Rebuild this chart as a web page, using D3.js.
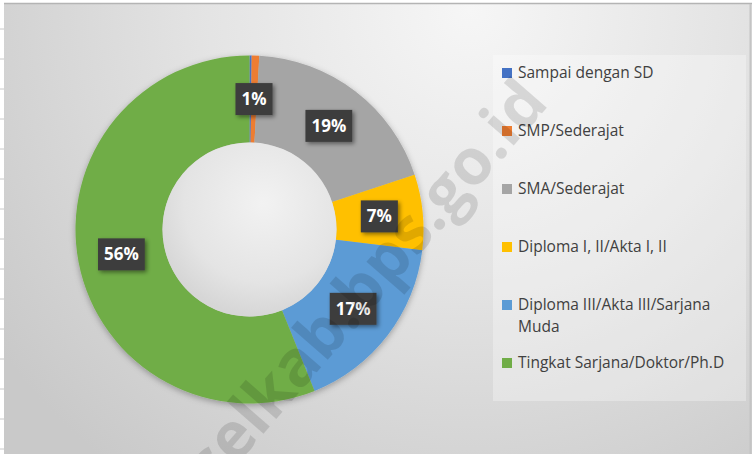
<!DOCTYPE html>
<html lang="en">
<head>
  <meta charset="UTF-8">
  <title>Pendidikan - Donut</title>
  <script src="https://d3js.org/d3.v7.min.js"></script>
  <style>
    body { margin: 0; background: #fff; }
    svg { display: block; font-family: "Open Sans", "Noto Sans", Arial, sans-serif; }
  </style>
</head>
<body>
  <svg id="chart" width="752" height="454"></svg>
  <script>
    // data (percent)
    const categories = [
      "Sampai dengan SD",
      "SMP/Sederajat",
      "SMA/Sederajat",
      "Diploma I, II/Akta I, II",
      "Diploma III/Akta III/Sarjana Muda",
      "Tingkat Sarjana/Doktor/Ph.D"
    ];
    const values = [0.2, 0.7, 19.0, 7.0, 17.0, 56.1];
    const colors = ["#4472C4", "#ED7D31", "#A5A5A5", "#FFC000", "#5B9BD5", "#70AD47"];
    const watermark = "idselkab.bps.go.id";

    const width = 752, height = 454;
    const cx = 249.5, cy = 229.5;
    const outerR = 174, innerR = 87;

    const svg = d3.select("#chart");
    const defs = svg.append("defs");

    // background gradient
    const bg = defs.append("radialGradient")
      .attr("id", "bgGrad")
      .attr("gradientUnits", "userSpaceOnUse")
      .attr("cx", 470).attr("cy", 10).attr("r", 580);
    bg.append("stop").attr("offset", 0).attr("stop-color", "#f6f6f6");
    bg.append("stop").attr("offset", 0.45).attr("stop-color", "#e4e4e4");
    bg.append("stop").attr("offset", 1).attr("stop-color", "#c9c9c9");

    const hole = defs.append("radialGradient")
      .attr("id", "holeGrad")
      .attr("cx", "58%").attr("cy", "35%").attr("r", "65%");
    hole.append("stop").attr("offset", 0).attr("stop-color", "#f2f2f2");
    hole.append("stop").attr("offset", 0.7).attr("stop-color", "#e4e4e4");
    hole.append("stop").attr("offset", 1).attr("stop-color", "#d6d6d6");

    const ringShadow = defs.append("filter").attr("id", "ringShadow")
      .attr("x", "-20%").attr("y", "-20%").attr("width", "140%").attr("height", "140%");
    ringShadow.append("feDropShadow")
      .attr("dx", 0).attr("dy", 2).attr("stdDeviation", 3)
      .attr("flood-color", "#000").attr("flood-opacity", 0.3);

    const boxShadow = defs.append("filter").attr("id", "boxShadow")
      .attr("x", "-30%").attr("y", "-30%").attr("width", "160%").attr("height", "160%");
    boxShadow.append("feDropShadow")
      .attr("dx", 2).attr("dy", 2).attr("stdDeviation", 2)
      .attr("flood-color", "#000").attr("flood-opacity", 0.45);

    // chart area
    svg.append("rect").attr("width", width).attr("height", height).attr("fill", "#fff");
    svg.append("rect")
      .attr("x", 4).attr("y", 4).attr("width", width - 4).attr("height", height - 4)
      .attr("fill", "url(#bgGrad)");
    svg.append("line")
      .attr("x1", 4).attr("x2", width).attr("y1", 3.5).attr("y2", 3.5)
      .attr("stroke", "#b4b4b4").attr("stroke-width", 1.5);
    svg.append("line")
      .attr("x1", width - 1.5).attr("x2", width - 1.5).attr("y1", 4).attr("y2", height)
      .attr("stroke", "#c4c4c4").attr("stroke-width", 2);
    // little ticks on the left edge (sheet row marks)
    d3.range(29, height, 30).forEach(y => {
      svg.append("line")
        .attr("x1", 0).attr("x2", 4).attr("y1", y).attr("y2", y)
        .attr("stroke", "#c8c8c8");
    });

    // donut
    const pie = d3.pie().sort(null).value(d => d);
    const arcs = pie(values);
    const arc = d3.arc().innerRadius(innerR).outerRadius(outerR);
    const labelArc = d3.arc().innerRadius((innerR + outerR) / 2).outerRadius((innerR + outerR) / 2);

    const g = svg.append("g").attr("transform", `translate(${cx},${cy})`);

    g.append("g")
      .attr("filter", "url(#ringShadow)")
      .selectAll("path")
      .data(arcs)
      .enter().append("path")
      .attr("d", arc)
      .attr("fill", (d, i) => colors[i]);

    g.append("circle")
      .attr("r", innerR)
      .attr("fill", "url(#holeGrad)");

    // data labels
    const total = d3.sum(values);
    const fmt = v => Math.round(v / total * 100) + "%";
    const labels = g.selectAll(".lbl")
      .data(arcs.filter(d => Math.round(d.data / total * 100) > 0))
      .enter().append("g")
      .attr("class", "lbl")
      .attr("transform", d => `translate(${labelArc.centroid(d)})`);

    labels.each(function (d) {
      const sel = d3.select(this);
      const box = sel.append("rect").attr("fill", "#3d3d3d").attr("filter", "url(#boxShadow)");
      const t = sel.append("text")
        .attr("text-anchor", "middle")
        .attr("dy", "0.35em")
        .attr("fill", "#fff")
        .attr("font-weight", "bold")
        .attr("font-size", 17)
        .text(fmt(d.data));
      const w = t.node().getComputedTextLength() + 12;
      box.attr("x", -w / 2).attr("y", -16).attr("width", w).attr("height", 32);
    });

    // legend
    const legX = 493, legY = 55, legW = 253, legH = 346;
    svg.append("rect")
      .attr("x", legX).attr("y", legY).attr("width", legW).attr("height", legH)
      .attr("fill", "#fff").attr("fill-opacity", 0.3);

    const rowY = d3.scaleLinear().domain([0, categories.length - 1]).range([73, 363]);
    const maxTextW = legX + legW - 518 - 6;

    const items = svg.append("g").selectAll(".leg")
      .data(categories)
      .enter().append("g")
      .attr("class", "leg")
      .attr("transform", (d, i) => `translate(502,${rowY(i)})`);

    items.append("rect")
      .attr("x", 0).attr("y", -5).attr("width", 10).attr("height", 10)
      .attr("fill", (d, i) => colors[i]);

    items.each(function (d) {
      const text = d3.select(this).append("text")
        .attr("x", 16)
        .attr("fill", "#404040")
        .attr("font-size", 15.5);
      const words = d.split(" ");
      let line = [];
      let tspan = text.append("tspan").attr("x", 16).attr("dy", "0.35em");
      words.forEach(w => {
        line.push(w);
        tspan.text(line.join(" "));
        if (tspan.node().getComputedTextLength() > maxTextW && line.length > 1) {
          line.pop();
          tspan.text(line.join(" "));
          line = [w];
          tspan = text.append("tspan").attr("x", 16).attr("dy", 22).text(w);
        }
      });
    });

    // watermark
    svg.append("text")
      .attr("transform", "translate(550,104) rotate(-49)")
      .attr("text-anchor", "end")
      .attr("font-size", 64)
      .attr("font-weight", "bold")
      .attr("fill", "#000")
      .attr("fill-opacity", 0.12)
      .text(watermark);
  </script>
</body>
</html>
